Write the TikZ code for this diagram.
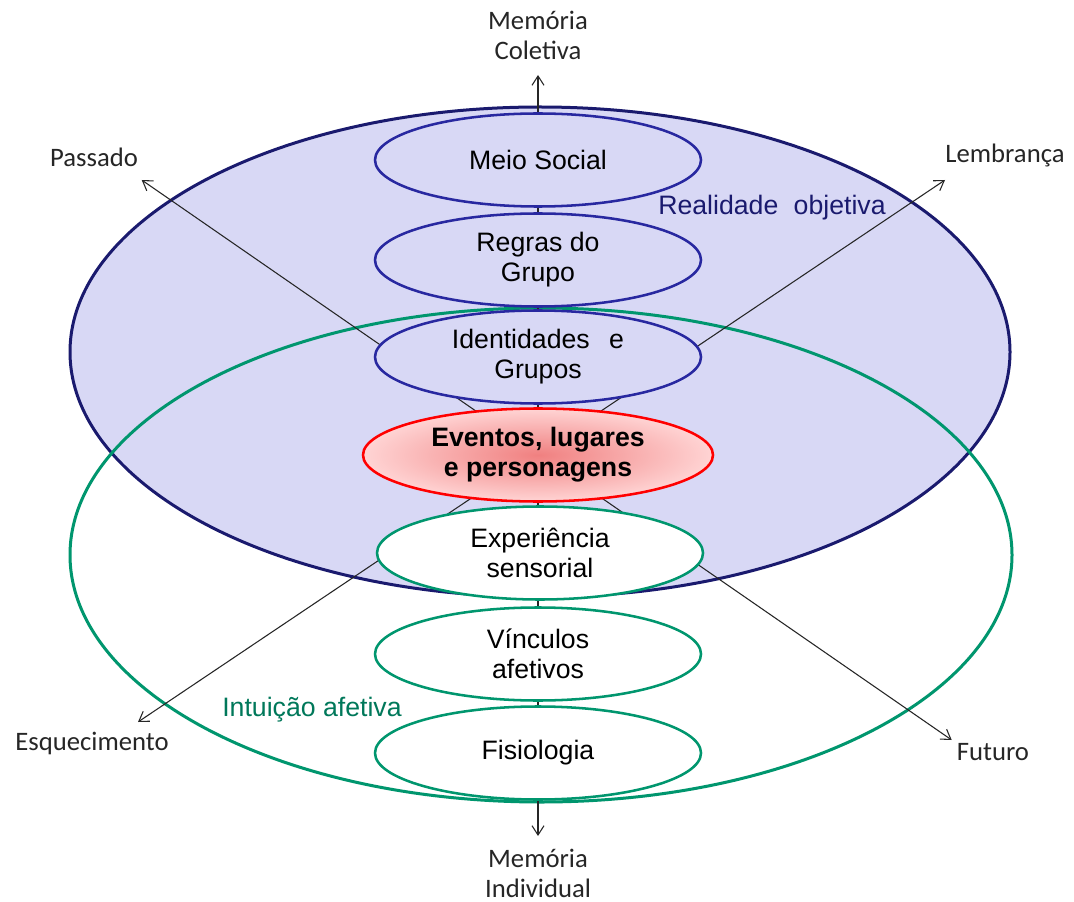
\documentclass[tikz,border=0pt]{standalone}
\usepackage{fontspec}
\setmainfont{Liberation Sans}
\newfontfamily\calibri{Carlito}
\usetikzlibrary{shapes.geometric,arrows.meta}
\definecolor{lav}{RGB}{216,216,245}
\definecolor{navy}{RGB}{26,26,110}
\definecolor{rblue}{RGB}{40,40,160}
\definecolor{mgreen}{RGB}{0,150,110}
\definecolor{tgreen}{RGB}{0,120,90}
\definecolor{pinkin}{RGB}{240,128,128}
\definecolor{pinkout}{RGB}{255,212,212}
\begin{document}
\begin{tikzpicture}[x=0.75pt,y=-0.75pt,
  every node/.style={font=\fontsize{20}{22.5}\selectfont, align=center},
  bubble/.style={ellipse, inner sep=0pt, minimum width=244.5pt, minimum height=69.75pt, line width=1.9pt},
  upper/.style={bubble, draw=rblue, fill=lav},
  lower/.style={bubble, draw=mgreen, fill=white},
  axis/.style={line width=0.8pt, draw=black!85,
    {Straight Barb[length=7pt,width=9pt]}-{Straight Barb[length=7pt,width=9pt]}},
  outer/.style={font=\calibri\fontsize{20}{22.5}\selectfont, text=black!85}]
\useasboundingbox (0,0) rectangle (1074,902);
\fill[white] (0,0) rectangle (1074,902);

% the two large regions
\draw[navy, fill=lav, line width=2.25pt] (540,352) ellipse [x radius=470, y radius=245];
\draw[mgreen, line width=2.25pt] (541,555) ellipse [x radius=471, y radius=247];

% ends of the axes
\coordinate (mc) at (538,75);
\coordinate (mi) at (538,836);
\coordinate (pa) at (141.7,180);
\coordinate (fu) at (951.7,740);
\coordinate (le) at (945,180);
\coordinate (es) at (138,722);
\draw[axis] (mc) -- (mi);
\draw[axis] (pa) -- (fu);
\draw[axis] (le) -- (es);

% stacked layers
\node[upper] (ms) at (538,160) {Meio Social};
\node[upper] (rg) at (538,260) {Regras do\\Grupo};
\node[upper] (ig) at (538,357) {Identidades\hspace{0.45em} e\\Grupos};
\node[bubble, draw=red, minimum width=262.5pt, inner color=pinkin, outer color=pinkout,
  font=\fontsize{20}{22.5}\selectfont\bfseries] (ev) at (538,455) {Eventos, lugares\\e personagens};
\node[lower] (ex) at (540,553) {Experiência\\sensorial};
\node[lower] (vi) at (538,654) {Vínculos\\afetivos};
\node[lower] (fi) at (538,753) {Fisiologia};

% axis labels
\node[outer] (lmc) at (538,35) {Memória\\Coletiva};
\node[outer] (lmi) at (538,873) {Memória\\Individual};
\node[outer] (lpa) at (94,157) {Passado};
\node[outer] (lle) at (1005,155) {Lembrança};
\node[outer] (les) at (92,743) {Esquecimento};
\node[outer] (lfu) at (993,752) {Futuro};

% region labels
\node[text=navy] (lro) at (772,208) {Realidade\hspace{0.3em} objetiva};
\node[text=tgreen] (lia) at (312,710) {Intuição afetiva};
\end{tikzpicture}
\end{document}
